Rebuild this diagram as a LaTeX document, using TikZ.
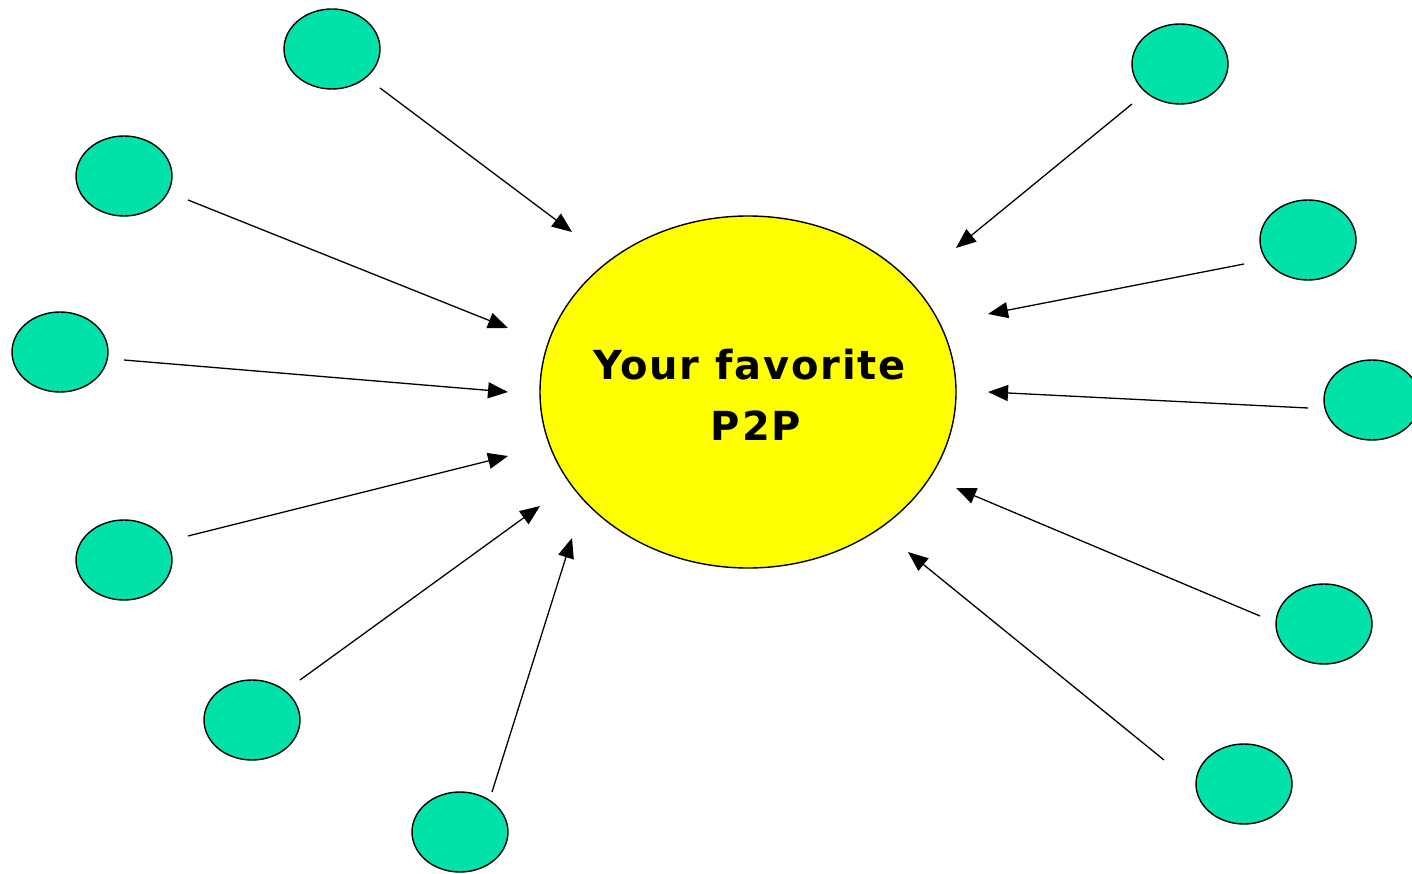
\documentclass[tikz,border=0pt]{standalone}
\usepackage{fontspec}
\setmainfont{DejaVu Sans}
\newfontfamily\hubfont[LetterSpace=4.5]{DejaVu Sans}
\usetikzlibrary{arrows.meta,shapes.geometric}
\definecolor{peer}{RGB}{0,226,170}
\definecolor{hub}{RGB}{255,255,0}
\tikzset{
  peernode/.style={ellipse, draw=black, line width=1.4pt, fill=peer, minimum width=96pt, minimum height=80pt, inner sep=0pt},
  hubnode/.style={ellipse, draw=black, line width=1.4pt, fill=hub, minimum width=416pt, minimum height=352pt, inner sep=0pt},
  hubtext/.style={font=\hubfont\bfseries\fontsize{40}{61}\selectfont, inner sep=0pt, anchor=base},
  link/.style={draw=black, line width=1.3pt, -{Triangle[length=20pt, width=16pt]}}
}
\begin{document}
\begin{tikzpicture}[x=1pt, y=-1pt]
\useasboundingbox (0,0) rectangle (1412,874);
\node[hubnode] (hub) at (748,392) {};
\node[hubtext] (label1) at (749.5,379) {Your favorite};
\node[hubtext] (label2) at (756,440) {P2P};
\node[peernode] (p1) at (332,49) {};
\node[peernode] (p2) at (124,176) {};
\node[peernode] (p3) at (60,352) {};
\node[peernode] (p4) at (124,560) {};
\node[peernode] (p5) at (252,720) {};
\node[peernode] (p6) at (460,832) {};
\node[peernode] (p7) at (1180,64) {};
\node[peernode] (p8) at (1308,240) {};
\node[peernode] (p9) at (1372,400) {};
\node[peernode] (p10) at (1324,624) {};
\node[peernode] (p11) at (1244,784) {};
\coordinate (s1) at (380,88);   \coordinate (e1) at (572,232);
\coordinate (s2) at (188,200);  \coordinate (e2) at (508,328);
\coordinate (s3) at (124,360);  \coordinate (e3) at (508,392);
\coordinate (s4) at (188,536);  \coordinate (e4) at (508,456);
\coordinate (s5) at (300,680);  \coordinate (e5) at (540,506);
\coordinate (s6) at (492,792);  \coordinate (e6) at (572,538);
\coordinate (s7) at (1132,104); \coordinate (e7) at (956,248);
\coordinate (s8) at (1244,264); \coordinate (e8) at (988,314);
\coordinate (s9) at (1308,408); \coordinate (e9) at (988,392);
\coordinate (s10) at (1260,616); \coordinate (e10) at (956,488);
\coordinate (s11) at (1164,760); \coordinate (e11) at (908,552);
\foreach \i in {1,...,11} { \draw[link] (s\i) -- (e\i); }
\end{tikzpicture}
\end{document}
